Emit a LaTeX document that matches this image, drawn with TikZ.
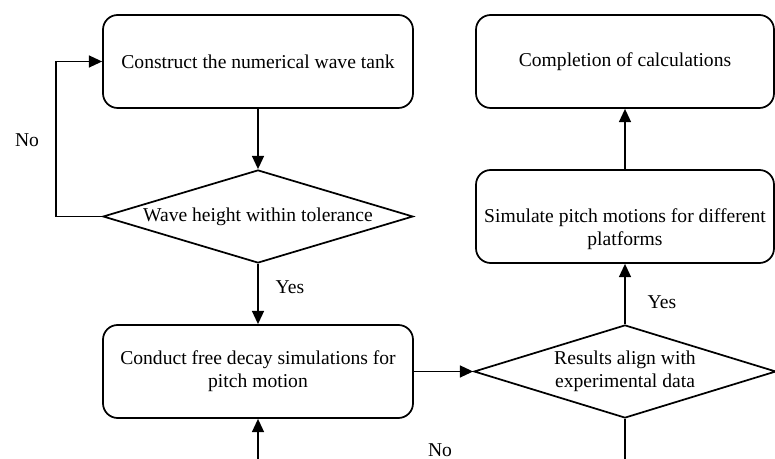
\documentclass[tikz,border=0pt]{standalone}
\usepackage{fontspec}
\setmainfont{Liberation Serif}
\usetikzlibrary{shapes.geometric, arrows.meta, positioning}
\newcommand{\flowfont}{\fontsize{14.7}{17.25}\selectfont}

\begin{document}
\begin{tikzpicture}[x=0.75pt, y=-0.75pt]
    % Define styles
    \tikzstyle{process}=[draw, line width=1.3pt, rounded corners=11pt, minimum height=69.75pt, align=center, font=\flowfont]
    \tikzstyle{decision}=[draw, diamond, aspect=3.3, line width=1.3pt, inner sep=0pt, minimum height=69.75pt, align=center, font=\flowfont]
    \tikzstyle{flow}=[line width=1.3pt, -{Triangle[length=10pt, width=9pt]}]
    \tikzstyle{label_text}=[font=\flowfont]

    \useasboundingbox (0,0) rectangle (775,459);
    \clip (0,0) rectangle (775,459);

    % --- 1. Left column ---
    \node[process, minimum width=232.5pt] (tank) at (258,61.5) {Construct the numerical wave tank};
    \node[decision, minimum width=232.5pt] (height) at (258,216.5) {Wave height within tolerance};
    \node[process, minimum width=232.5pt] (decay) at (258,371.5) {Conduct free decay simulations for\\pitch motion};

    % --- 2. Right column ---
    \node[decision, minimum width=226.5pt] (align) at (625,371.5) {Results align with\\experimental data};
    \node[process, minimum width=223.5pt] (pitch) at (625,216.5) {\strut\\Simulate pitch motions for different\\platforms};
    \node[process, minimum width=223.5pt] (done) at (625,61.5) {Completion of calculations};

    % --- 3. Connectors ---
    \draw[flow] (tank) -- (height);
    \draw[flow] (height.west) -- ++(-46,0) |- (tank.west);
    \draw[flow] (height) -- (decay);
    \draw[flow] (decay) -- (align);
    \draw[flow] (align) -- (pitch);
    \draw[flow] (pitch) -- (done);
    \draw[flow] (align.south) -- ++(0,60) -| (decay.south);

    % --- 4. Annotations ---
    \node[label_text] (no_tank) at (27,140) {No};
    \node[label_text] (yes_decay) at (290,287) {Yes};
    \node[label_text] (yes_pitch) at (662,302) {Yes};
    \node[label_text] (no_decay) at (440,450) {No};

\end{tikzpicture}
\end{document}
